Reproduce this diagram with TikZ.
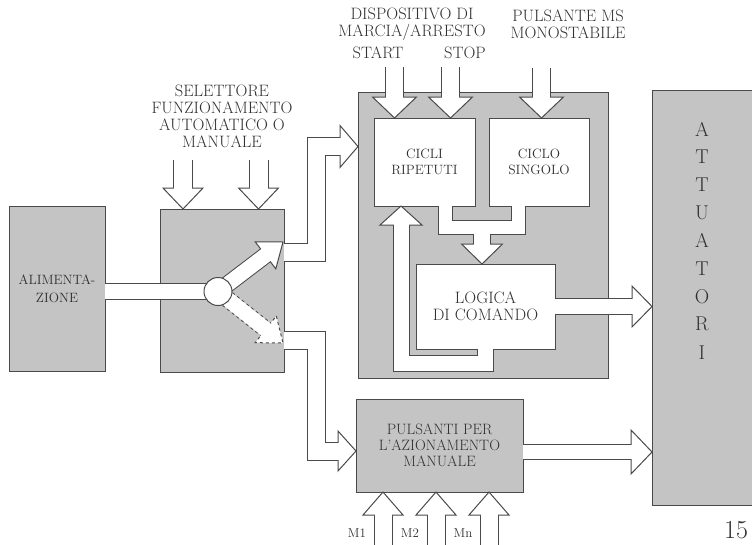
\documentclass[tikz,border=0pt]{standalone}
\usepackage{tikz}
\usetikzlibrary{calc}
\usepackage{xcolor}
\definecolor{blkgray}{HTML}{C4C4C4}
\definecolor{blkline}{HTML}{4A4A4A}
\definecolor{blkink}{HTML}{303030}

\tikzset{
  grayblock/.style={draw=blkline, line width=1pt, fill=blkgray, inner sep=0pt, outer sep=0pt,
    text=blkink, align=center, font=\fontsize{15}{16}\selectfont},
  whiteblock/.style={grayblock, fill=white},
  lbl/.style={text=blkink, align=center, inner sep=0pt, font=\fontsize{16.5}{17}\selectfont},
}

% [opts]{shaft width}{head half width}{head length}{path up to last corner}{last corner}{tip}
\newcommand{\hollowarrow}[7][]{%
  \coordinate (hb) at ($(#7)!#4pt!(#6)$);
  \draw[#1, blkline, line width=#2pt+2pt] #5 (#6) -- (hb);
  \filldraw[#1, fill=white, draw=blkline, line width=1pt] ($(hb)!#3pt!90:(#7)$) -- (#7) -- ($(hb)!#3pt!-90:(#7)$) -- cycle;
  \draw[white, line width=#2pt] #5 (#6) -- ($(hb)!1.5pt!(#7)$);
}

\begin{document}
\begin{tikzpicture}[x=1pt, y=-1pt]
  \useasboundingbox (0,0) rectangle (752,544);

  % blocks
  \node[grayblock, minimum width=96pt, minimum height=165pt, font=\fontsize{13.5}{18}\selectfont] (alim) at (57,288.5) {ALIMENTA-\\ZIONE};
  \node[grayblock, minimum width=124pt, minimum height=163pt] (sel) at (222,290.5) {};
  \node[grayblock, minimum width=250pt, minimum height=286pt] (ctrl) at (483,235) {};
  \node[grayblock, minimum width=110pt, minimum height=415pt] (attu) at (707,297.5) {};
  \node[grayblock, minimum width=167pt, minimum height=93pt] (manual) at (439.5,445.5) {PULSANTI PER\\L'AZIONAMENTO\\MANUALE};
  \node[whiteblock, minimum width=101pt, minimum height=88pt, font=\fontsize{13.5}{16}\selectfont] (cicli) at (424.5,162) {CICLI\\RIPETUTI};
  \node[whiteblock, minimum width=100pt, minimum height=88pt, font=\fontsize{13.5}{16}\selectfont] (singolo) at (539,162) {CICLO\\SINGOLO};
  \node[whiteblock, minimum width=139pt, minimum height=85pt, font=\fontsize{16.5}{17}\selectfont] (logica) at (485.5,306.5) {LOGICA\\DI COMANDO};

  \foreach \l [count=\i] in {A,T,T,U,A,T,O,R,I}
    \node[lbl, font=\fontsize{20}{20}\selectfont] (att\i) at (702,{129+27.9*(\i-1)}) {\l};

  % labels
  \node[lbl] (dispo) at (412,24) {DISPOSITIVO DI\\MARCIA/ARRESTO};
  \node[lbl] (start) at (378,53) {START};
  \node[lbl] (stop) at (465,53) {STOP};
  \node[lbl] (pulsms) at (568,24) {PULSANTE MS\\MONOSTABILE};
  \node[lbl] (selt) at (222,116) {SELETTORE\\FUNZIONAMENTO\\AUTOMATICO O\\MANUALE};
  \node[lbl, font=\fontsize{13}{14}\selectfont] (m1) at (357,533) {M1};
  \node[lbl, font=\fontsize{13}{14}\selectfont] (m2) at (410,533) {M2};
  \node[lbl, font=\fontsize{13}{14}\selectfont] (mn) at (463,533) {Mn};
  \node[lbl, font=\fontsize{26}{26}\selectfont, anchor=base] (pagen) at (736,538) {15};

  % free ends
  \coordinate (startin) at (394.5,67);
  \coordinate (stopin) at (450.5,67);
  \coordinate (msin) at (541.5,68);
  \coordinate (selin1) at (183,160);
  \coordinate (selin2) at (258.5,160);
  \coordinate (m1in) at (383,546);
  \coordinate (m2in) at (436,546);
  \coordinate (mnin) at (489,546);
  \coordinate (hub) at (218,291.5);

  % inputs
  \hollowarrow{17}{22}{21}{}{startin}{startin |- cicli.north}
  \hollowarrow{17}{22}{21}{}{stopin}{stopin |- cicli.north}
  \hollowarrow{17}{22}{21}{}{msin}{msin |- singolo.north}
  \hollowarrow{18}{20}{21}{}{selin1}{selin1 |- sel.north}
  \hollowarrow{18}{20}{21}{}{selin2}{selin2 |- sel.north}
  \hollowarrow{17}{20}{23}{}{m1in}{m1in |- manual.south}
  \hollowarrow{17}{20}{23}{}{m2in}{m2in |- manual.south}
  \hollowarrow{17}{20}{23}{}{mnin}{mnin |- manual.south}

  % selector
  \draw[blkline, line width=17pt] (alim.east |- hub) -- (hub);
  \draw[white, line width=15pt] (alim.east |- hub) -- (hub);
  \hollowarrow{15}{17}{22}{}{hub}{283,242}
  \hollowarrow[dashed]{15}{17}{22}{}{hub}{283,343}
  \node[circle, draw=blkline, fill=white, line width=1pt, minimum size=28pt, inner sep=0pt] (junction) at (hub) {};
  \hollowarrow{17}{21}{18}{(sel.east |- 0,252) -- (316.5,252) --}{316.5,146.5}{ctrl.west |- 0,146.5}
  \hollowarrow{17}{20}{18}{(sel.east |- 0,340) -- (316.5,340) --}{316.5,451}{manual.west |- 0,451}

  % cycles to logic
  \draw[blkline, line width=15pt] (cicli.south -| 445,0) -- (445,227.5) -- (518.5,227.5) -- (singolo.south -| 518.5,0);
  \hollowarrow{16}{20.5}{20}{}{482,227.5}{logica.north -| 482,0}
  \draw[white, line width=13pt] (cicli.south -| 445,0) -- (445,227.5) -- (518.5,227.5) -- (singolo.south -| 518.5,0);
  \hollowarrow{15}{21}{19}{(logica.south -| 485,0) -- (485,363) --}{401,363}{cicli.south -| 401,0}

  % outputs
  \hollowarrow{15}{20.5}{20}{}{logica.east}{attu.west |- logica.east}
  \hollowarrow{14}{22}{21}{}{manual.east |- 0,452}{attu.west |- 0,452}
\end{tikzpicture}
\end{document}
